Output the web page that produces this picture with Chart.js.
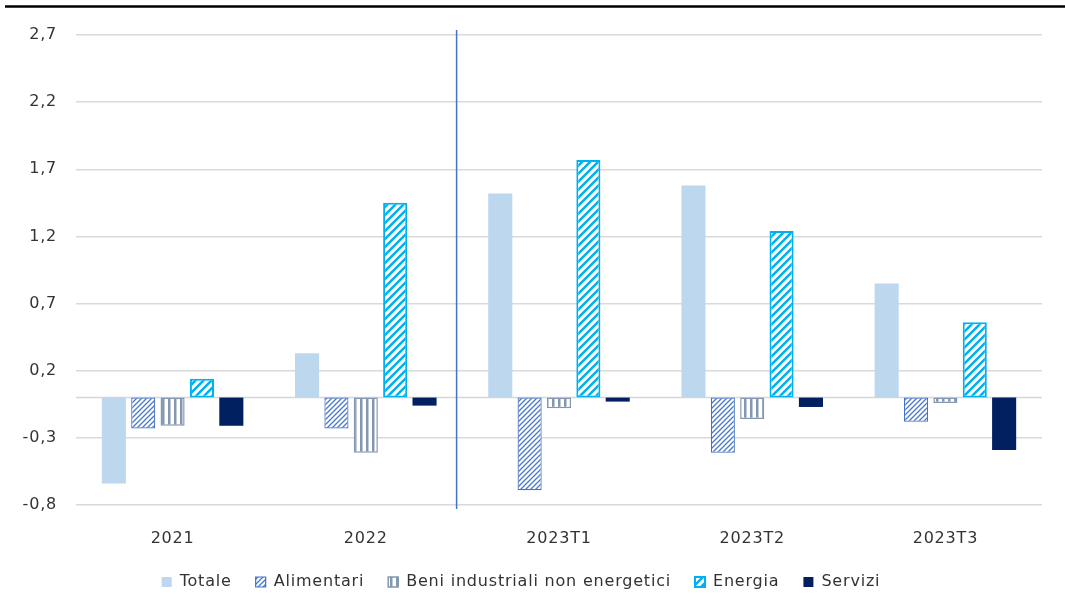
<!DOCTYPE html>
<html>
<head>
<meta charset="utf-8">
<script src="https://cdn.jsdelivr.net/npm/chart.js@4/dist/chart.umd.min.js"></script>
<style>
  html, body { margin: 0; padding: 0; background: #ffffff; }
  #wrap { width: 1065px; height: 613px; }
</style>
</head>
<body>
<div id="wrap"><canvas id="c" width="1065" height="613"></canvas></div>
<script>
// Periods on the category axis
const categories = ['2021', '2022', '2023T1', '2023T2', '2023T3'];

// Contributions by component
const totale     = [-0.64, 0.33, 1.52, 1.58, 0.85];
const alimentari = [-0.23, -0.23, -0.69, -0.41, -0.18];
const beni       = [-0.21, -0.41, -0.08, -0.16, -0.04];
const energia    = [0.14, 1.45, 1.77, 1.24, 0.56];
const servizi    = [-0.21, -0.06, -0.03, -0.07, -0.39];

// Value axis ticks
const yTicks = [-0.8, -0.3, 0.2, 0.7, 1.2, 1.7, 2.2, 2.7];

// Separator between annual and quarterly periods (category units)
const dividerAt = 1.47;

const FONT = '"DejaVu Sans", sans-serif';
const TEXT = '#333333';
const SPACING = '0.8px';

function makeTile(size, draw) {
  const t = document.createElement('canvas');
  t.width = size; t.height = size;
  const g = t.getContext('2d');
  g.fillStyle = '#ffffff';
  g.fillRect(0, 0, size, size);
  draw(g, size);
  return document.getElementById('c').getContext('2d').createPattern(t, 'repeat');
}

function diagonal(color, size, width) {
  return makeTile(size, (g, s) => {
    g.strokeStyle = color;
    g.lineWidth = width;
    g.lineCap = 'square';
    g.beginPath();
    g.moveTo(-s, 2 * s); g.lineTo(2 * s, -s);
    g.moveTo(-s, s);     g.lineTo(s, -s);
    g.moveTo(0, 2 * s);  g.lineTo(2 * s, 0);
    g.stroke();
  });
}

function vertical(color, size, width) {
  return makeTile(size, (g, s) => {
    g.fillStyle = color;
    g.fillRect(0, 0, width, s);
  });
}

// Slightly tracked lettering for every label the chart draws
const tracking = {
  id: 'tracking',
  beforeLayout(chart) { chart.ctx.letterSpacing = SPACING; },
  beforeDraw(chart) { chart.ctx.letterSpacing = SPACING; }
};

const overlay = {
  id: 'overlay',
  beforeDatasetsDraw(chart) {
    const { ctx, chartArea, scales } = chart;
    const y0 = scales.y.getPixelForValue(0);
    ctx.save();
    ctx.strokeStyle = '#d6d6d6';
    ctx.lineWidth = 1.5;
    ctx.beginPath();
    ctx.moveTo(chartArea.left, y0);
    ctx.lineTo(chartArea.right, y0);
    ctx.stroke();
    ctx.restore();
  },
  afterDraw(chart) {
    const { ctx, chartArea, scales } = chart;
    ctx.save();
    // top rule
    ctx.strokeStyle = '#000000';
    ctx.lineWidth = 2.5;
    ctx.beginPath();
    ctx.moveTo(5, 6.5);
    ctx.lineTo(chart.width, 6.5);
    ctx.stroke();
    // divider
    const xd = scales.x.getPixelForValue(dividerAt);
    ctx.strokeStyle = '#4472c4';
    ctx.lineWidth = 1.5;
    ctx.beginPath();
    ctx.moveTo(xd, chartArea.top - 5);
    ctx.lineTo(xd, chartArea.bottom + 4);
    ctx.stroke();
    ctx.restore();
  }
};

new Chart(document.getElementById('c'), {
  type: 'bar',
  data: {
    labels: categories,
    datasets: [
      { label: 'Totale', data: totale, backgroundColor: '#bdd7ee', borderWidth: 0 },
      { label: 'Alimentari', data: alimentari, backgroundColor: diagonal('#4a78cc', 5, 1.3), borderColor: '#4472c4', borderWidth: 1.2 },
      { label: 'Beni industriali non energetici', data: beni, backgroundColor: vertical('#8497b0', 6, 2.5), borderColor: '#8497b0', borderWidth: 1.5 },
      { label: 'Energia', data: energia, backgroundColor: diagonal('#00b0f0', 8, 2.5), borderColor: '#00b0f0', borderWidth: 2 },
      { label: 'Servizi', data: servizi, backgroundColor: '#002060', borderColor: '#002060', borderWidth: 0 }
    ]
  },
  options: {
    responsive: false,
    animation: false,
    devicePixelRatio: 1,
    layout: { padding: { left: 0, right: 23, top: 35, bottom: 13 } },
    datasets: { bar: { categoryPercentage: 0.76, barPercentage: 0.82, borderSkipped: false } },
    scales: {
      x: {
        grid: { display: false },
        border: { display: false },
        ticks: { color: TEXT, font: { family: FONT, size: 16 }, padding: 16 },
        afterFit(scale) { scale.height = 45; }
      },
      y: {
        min: yTicks[0],
        max: yTicks[yTicks.length - 1],
        afterBuildTicks(scale) { scale.ticks = yTicks.map(v => ({ value: v })); },
        grid: { color: '#d9d9d9', lineWidth: 1.5, drawTicks: false },
        border: { display: false },
        ticks: {
          color: TEXT,
          font: { family: FONT, size: 16 },
          padding: 19,
          callback: v => Number(v).toFixed(1).replace('.', ',')
        },
        afterFit(scale) { scale.width = 76; }
      }
    },
    plugins: {
      legend: {
        position: 'bottom',
        labels: {
          color: TEXT,
          font: { family: FONT, size: 16 },
          boxWidth: 10,
          boxHeight: 10,
          padding: 24
        }
      },
      tooltip: { enabled: false }
    }
  },
  plugins: [tracking, overlay]
});
</script>
</body>
</html>
